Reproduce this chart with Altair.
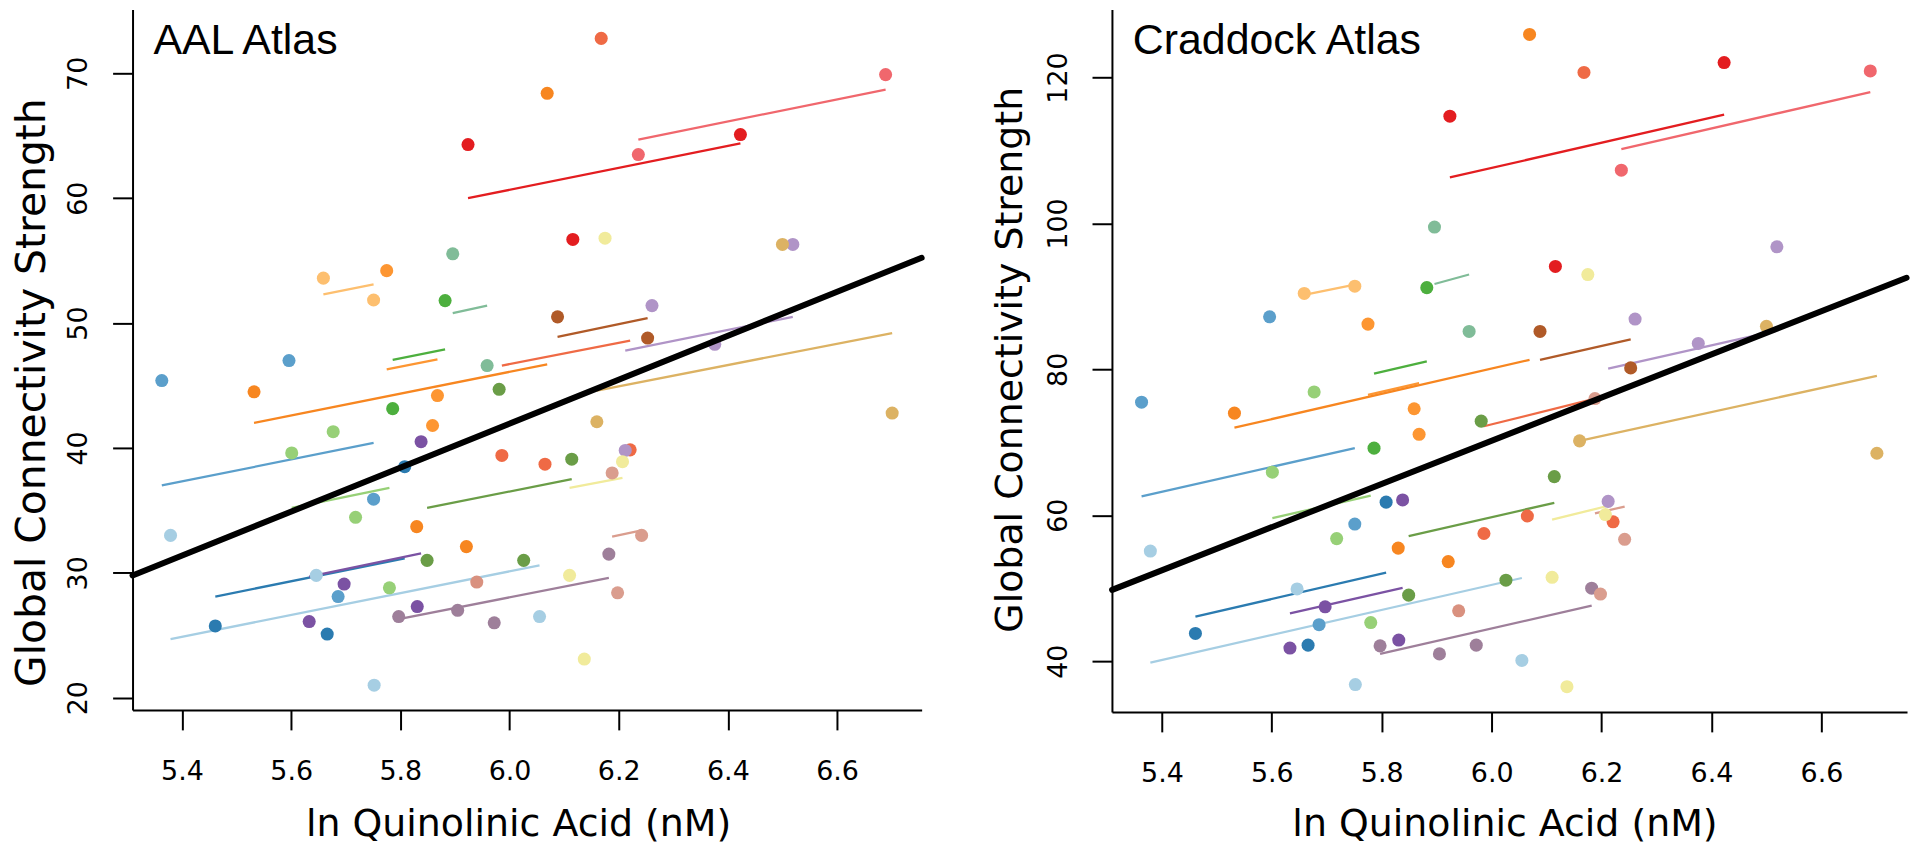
import altair as alt
import pandas as pd

# ---------------- data ----------------
subject_ids = ["lb", "mb", "db", "lg", "g", "og", "tg", "lo", "o", "do", "r",
               "pk", "tom", "br", "lav", "pu", "mv", "sal", "sal2", "y", "tan"]
subject_colors = ["#A6CEE3", "#5B9FCB", "#2B7BB0", "#97D077", "#4DAF3E", "#6A9D47",
                  "#80BC98", "#FDBF6F", "#FD9632", "#F78620", "#E31D20", "#F0676D",
                  "#EF6A45", "#B05A28", "#B094C7", "#7B52A3", "#9E7F9A", "#DA9D8E",
                  "#D9917F", "#F1EB9B", "#DCB263"]

# individual observations
pt_subject = (["lb"] * 4 + ["mb"] * 4 + ["db"] * 3 + ["lg"] * 4 + ["g"] * 2 + ["og"] * 4 +
              ["tg"] * 2 + ["lo"] * 2 + ["o"] * 3 + ["do"] * 4 + ["r"] * 3 + ["pk"] * 2 +
              ["tom"] * 4 + ["br"] * 2 + ["lav"] * 4 + ["pu"] * 4 + ["mv"] * 4 + ["sal"] * 3 +
              ["sal2"] * 1 + ["y"] * 4 + ["tan"] * 3)
pt_qa = [5.379, 5.646, 5.752, 6.055,
         5.363, 5.596, 5.686, 5.751,
         5.461, 5.666, 5.808,
         5.601, 5.677, 5.718, 5.780,
         5.786, 5.882,
         5.849, 5.981, 6.026, 6.114,
         5.896, 5.959,
         5.659, 5.751,
         5.775, 5.859, 5.868,
         5.532, 5.830, 5.921, 6.069,
         5.924, 6.116, 6.423,
         6.236, 6.689,
         5.986, 6.065, 6.168, 6.221,
         6.088, 6.253,
         6.212, 6.261, 6.376, 6.519,
         5.633, 5.697, 5.831, 5.838,
         5.797, 5.905, 5.972, 6.182,
         6.188, 6.198, 6.242,
         5.940,
         6.110, 6.137, 6.175, 6.207,
         6.160, 6.500, 6.701]
pt_aal = [33.0, 29.8, 21.0, 26.5,
          45.4, 47.0, 28.1, 35.9,
          25.75, 25.1, 38.5,
          39.6, 41.3, 34.45, 28.8,
          43.15, 51.8,
          31.0, 44.7, 31.0, 39.1,
          55.55, 46.6,
          53.6, 51.85,
          54.2, 41.8, 44.2,
          44.5, 33.7, 32.1, 68.4,
          64.3, 56.7, 65.1,
          63.5, 69.9,
          39.4, 38.7, 72.8, 39.85,
          50.5, 48.8,
          39.8, 51.4, 48.3, 56.3,
          26.1, 29.1, 27.3, 40.5,
          26.5, 27.0, 26.0, 31.5,
          38.0, 28.4, 33.0,
          29.26,
          29.8, 23.1, 56.8, 38.9,
          42.1, 56.3, 42.8]
pt_cc = [55.1, 49.9, 36.8, 40.1,
         75.5, 87.2, 45.0, 58.8,
         43.8, 42.2, 61.8,
         65.9, 76.9, 56.8, 45.3,
         69.2, 91.2,
         49.05, 72.9, 51.1, 65.3,
         99.5, 85.2,
         90.4, 91.4,
         86.2, 74.6, 71.1,
         74.0, 55.5, 53.65, 125.9,
         114.7, 94.1, 122.05,
         107.3, 120.9,
         57.5, 59.9, 120.7, 59.1,
         85.2, 80.2,
         61.9, 86.9, 83.55, 96.8,
         41.8, 47.45, 42.9, 62.1,
         42.1, 41.0, 42.2, 50.0,
         76.0, 49.2, 56.7,
         46.9,
         51.5, 36.5, 93.0, 60.1,
         70.2, 85.9, 68.5]

# per-subject fitted segments
seg_subject = ["lb", "mb", "db", "lg", "g", "og", "tg", "lo", "o", "do", "r",
               "pk", "tom", "br", "lav", "pu", "mv", "sal", "y", "tan"]
seg_qa1 = [5.379, 5.363, 5.461, 5.601, 5.786, 5.849, 5.896, 5.659, 5.775, 5.532, 5.924,
           6.236, 5.986, 6.088, 6.212, 5.633, 5.797, 6.188, 6.110, 6.160]
seg_qa2 = [6.055, 5.751, 5.808, 5.780, 5.882, 6.114, 5.959, 5.751, 5.868, 6.069, 6.423,
           6.689, 6.221, 6.253, 6.519, 5.838, 6.182, 6.242, 6.207, 6.701]
seg_aal1 = [24.7, 37.0, 28.1, 35.2, 47.06, 35.2, 50.8, 52.3, 46.3, 42.0, 60.0,
            64.7, 46.6, 48.9, 47.8, 29.7, 26.3, 32.9, 36.8, 44.6]
seg_aal2 = [30.6, 40.4, 31.15, 36.8, 47.9, 37.5, 51.4, 53.1, 47.1, 46.7, 64.4,
            68.7, 48.6, 50.4, 50.5, 31.55, 29.6, 33.4, 37.6, 49.2]
seg_cc1 = [39.8, 62.6, 46.1, 59.6, 79.4, 57.15, 91.7, 90.2, 76.5, 72.0, 106.3,
           110.2, 72.2, 81.3, 80.1, 46.55, 41.0, 60.25, 59.4, 70.2]
seg_cc2 = [51.4, 69.2, 52.15, 62.7, 81.1, 61.7, 93.0, 91.6, 78.1, 81.3, 114.9,
           118.0, 76.6, 84.1, 85.3, 50.05, 47.6, 61.2, 61.2, 79.1]

# overall fit lines (ends at the plot edges)
fit_qa = [5.3094, 6.755]
fit_aal = [29.79, 55.23]
fit_cc = [49.77, 92.56]

x_ticks = [5.4, 5.6, 5.8, 6.0, 6.2, 6.4, 6.6]
aal_ticks = [20, 30, 40, 50, 60, 70]
cc_ticks = [40, 60, 80, 100, 120]

# ---------------- chart ----------------
color_scale = alt.Scale(domain=subject_ids, range=subject_colors)


def panel(ypts, y1, y2, yfit, ydomain, yticks, xdomain, w, h, label,
          xtitle_x, xtitle_y, ytitle_x, ytitle_y, ytitle_size):
    pts = pd.DataFrame({"subject": pt_subject, "qa": pt_qa, "val": ypts})
    segs = pd.DataFrame({"subject": seg_subject, "qa": seg_qa1, "qa2": seg_qa2,
                         "val": y1, "val2": y2})
    fit = pd.DataFrame({"qa": [fit_qa[0]], "qa2": [fit_qa[1]],
                        "val": [yfit[0]], "val2": [yfit[1]]})
    lab = pd.DataFrame({"label": [label]})

    xs = alt.Scale(domain=xdomain, nice=False, zero=False)
    ys = alt.Scale(domain=ydomain, nice=False, zero=False)
    xax = alt.Axis(values=x_ticks, format=".1f", title="ln Quinolinic Acid (nM)",
                   labelBaseline="alphabetic", labelPadding=50,
                   titleX=xtitle_x, titleY=xtitle_y, titleBaseline="alphabetic",
                   titleAlign="center")
    yax = alt.Axis(values=yticks, format="d", title="Global Connectivity Strength",
                   labelAngle=270, labelAlign="center", labelBaseline="alphabetic",
                   labelPadding=26, titleAngle=270, titleX=ytitle_x, titleY=ytitle_y,
                   titleBaseline="alphabetic", titleAlign="center",
                   titleFontSize=ytitle_size)
    X = alt.X("qa:Q", scale=xs, axis=xax)
    Y = alt.Y("val:Q", scale=ys, axis=yax)

    seg_layer = alt.Chart(segs).mark_rule(strokeWidth=2.3).encode(
        x=X, x2="qa2:Q", y=Y, y2="val2:Q",
        color=alt.Color("subject:N", scale=color_scale, legend=None))
    pt_layer = alt.Chart(pts).mark_circle(size=172, opacity=1).encode(
        x=X, y=Y, color=alt.Color("subject:N", scale=color_scale, legend=None))
    fit_layer = alt.Chart(fit).mark_rule(strokeWidth=6, color="black",
                                         strokeCap="round").encode(
        x=X, x2="qa2:Q", y=Y, y2="val2:Q")
    lab_layer = alt.Chart(lab).mark_text(align="left", baseline="alphabetic",
                                         font="Liberation Sans", fontSize=43,
                                         color="black").encode(
        text="label:N", x=alt.value(21), y=alt.value(45))
    return alt.layer(seg_layer, pt_layer, fit_layer, lab_layer).properties(
        width=w, height=h)


left = panel(pt_aal, seg_aal1, seg_aal2, fit_aal, [19.02, 75.11], aal_ticks,
             [5.3094, 6.755], 792, 703, "AAL Atlas", 387, 126, -88, 384, 41)
right = panel(pt_cc, seg_cc1, seg_cc2, fit_cc, [33.04, 129.32], cc_ticks,
              [5.3091, 6.7558], 798, 705, "Craddock Atlas", 394, 124, -91, 351, 38)

chart = alt.hconcat(left, right, spacing=191, bounds="flush").properties(
    padding={"left": 3, "top": 0, "right": 2, "bottom": 2}
).configure_axis(
    domainColor="black", domainWidth=2, tickColor="black", tickWidth=2, tickSize=20,
    labelColor="black", titleColor="black", labelFont="DejaVu Sans", labelFontSize=27,
    titleFont="DejaVu Sans", titleFontSize=38, titleFontWeight="normal", grid=False
).configure_view(stroke=None)

chart.save("out.html", embed_options={"renderer": "svg", "actions": False})
